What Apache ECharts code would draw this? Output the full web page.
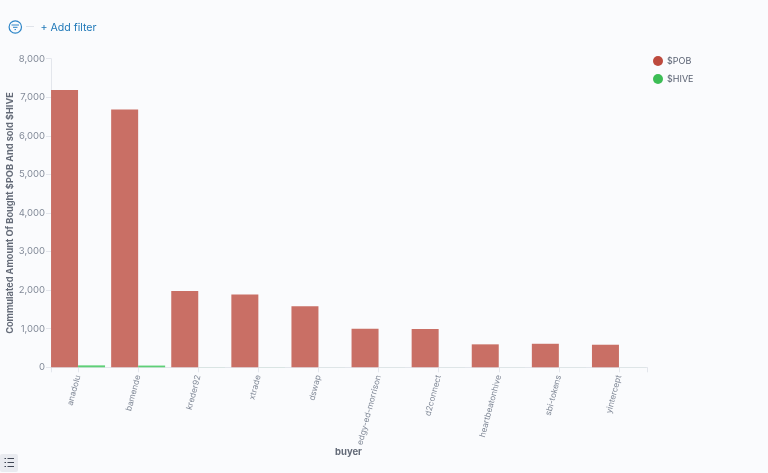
<!DOCTYPE html>
<html><head><meta charset="utf-8">
<style>html,body{margin:0;padding:0;background:#FAFBFD}#c{width:768px;height:473px}</style>
<script src="https://cdn.jsdelivr.net/npm/echarts@6/dist/echarts.min.js"></script>
</head><body><div id="c"></div>
<script>
const categories=['anadolu','bamende','kreder92','xtrade','dswap','edgy-ed-morrison','d2connect','heartbeatonhive','sbi-tokens','yintercept'];
const pob=[7190,6680,1975,1885,1585,1000,990,595,610,585];
const hive=[50,45,2,2,1,1,1,1,1,1];
const chart=echarts.init(document.getElementById('c'),null,{renderer:'canvas'});
const font='Inter';
const labelColor='#828A98', titleColor='#646B78', lineColor='#E3E6EC';
chart.setOption({
 animation:false,
 backgroundColor:'#FAFBFD',
 textStyle:{fontFamily:font},
 grid:[
  {left:48,width:601,top:58.7,height:308.6,outerBoundsMode:'none',containLabel:false},
  {left:51,width:596,top:58.7,height:308.6,outerBoundsMode:'none',containLabel:false}
 ],
 legend:{
  orient:'vertical',left:648,top:51,itemWidth:10,itemHeight:10,itemGap:8,icon:'circle',
  textStyle:{fontFamily:font,fontSize:9,color:'#5A6272',padding:[0,0,0,-1]},
  data:[{name:'$POB',itemStyle:{color:'#BD4A3E'}},{name:'$HIVE',itemStyle:{color:'#3CBD55'}}]
 },
 xAxis:[
  {type:'category',gridIndex:0,data:categories,boundaryGap:true,
   name:'buyer',nameLocation:'middle',nameGap:80,nameMoveOverlap:false,
   nameTextStyle:{fontFamily:font,fontSize:9.5,fontWeight:'bold',color:titleColor},
   axisLine:{show:false},
   axisTick:{show:true,alignWithLabel:true,length:5,lineStyle:{color:lineColor}},
   axisLabel:{rotate:75,interval:0,margin:8,fontSize:8.3,color:labelColor,fontFamily:font}},
  {type:'value',gridIndex:1,min:0,max:1,interval:1,
   axisLine:{show:true,onZero:false,lineStyle:{color:lineColor}},
   axisTick:{show:true,length:5,lineStyle:{color:lineColor}},
   axisLabel:{show:false},splitLine:{show:false}}
 ],
 yAxis:[
  {type:'value',gridIndex:0,min:0,max:8000,interval:1000,show:true,
   axisLine:{show:false},axisTick:{show:false},axisLabel:{show:false},splitLine:{show:false}},
  {type:'value',gridIndex:1,min:0,max:8000,interval:1000,
   name:'Commulated Amount Of Bought $POB And sold $HIVE',nameLocation:'middle',nameGap:36,nameMoveOverlap:false,
   nameTextStyle:{fontFamily:font,fontSize:9.2,fontWeight:'bold',color:titleColor},
   axisLine:{show:true,lineStyle:{color:lineColor}},
   axisTick:{show:true,length:5,lineStyle:{color:lineColor}},
   axisLabel:{margin:6,fontSize:9.5,color:labelColor,fontFamily:font,
     formatter:v=>v.toLocaleString('en-US')},
   splitLine:{show:false}}
 ],
 series:[
  {name:'$POB',type:'bar',xAxisIndex:0,yAxisIndex:0,data:pob,barWidth:27,barGap:'0%',
   itemStyle:{color:'#C96F65'}},
  {name:'$HIVE',type:'bar',xAxisIndex:0,yAxisIndex:0,data:hive,barWidth:27,barGap:'0%',
   itemStyle:{color:'#5ED077'}}
 ],
 graphic:[
  {type:'circle',shape:{cx:15.3,cy:27,r:6.2},style:{fill:'none',stroke:'#2E86C8',lineWidth:1.2}},
  {type:'line',shape:{x1:11.5,y1:25,x2:19,y2:25},style:{stroke:'#2E86C8',lineWidth:1}},
  {type:'line',shape:{x1:13,y1:27.3,x2:17.5,y2:27.3},style:{stroke:'#2E86C8',lineWidth:1}},
  {type:'line',shape:{x1:14.5,y1:29.6,x2:16,y2:29.6},style:{stroke:'#2E86C8',lineWidth:1}},
  {type:'line',shape:{x1:26,y1:26.5,x2:34,y2:26.5},style:{stroke:'#DFE3EA',lineWidth:1}},
  {type:'text',left:40.5,top:22.5,style:{text:'+ Add filter',font:'10.6px Inter',fill:'#1F78B8'}},
  {type:'rect',shape:{x:0,y:454,width:18,height:18,r:2},style:{fill:'#E9EBF0'}},
  {type:'line',shape:{x1:7.5,y1:458.5,x2:14,y2:458.5},style:{stroke:'#3F4654',lineWidth:1}},
  {type:'line',shape:{x1:7.5,y1:462.5,x2:14,y2:462.5},style:{stroke:'#3F4654',lineWidth:1}},
  {type:'line',shape:{x1:7.5,y1:466.5,x2:14,y2:466.5},style:{stroke:'#3F4654',lineWidth:1}},
  {type:'line',shape:{x1:4.5,y1:458.5,x2:6,y2:458.5},style:{stroke:'#3F4654',lineWidth:1}},
  {type:'line',shape:{x1:4.5,y1:462.5,x2:6,y2:462.5},style:{stroke:'#3F4654',lineWidth:1}},
  {type:'line',shape:{x1:4.5,y1:466.5,x2:6,y2:466.5},style:{stroke:'#3F4654',lineWidth:1}}
 ]
});
</script></body></html>
